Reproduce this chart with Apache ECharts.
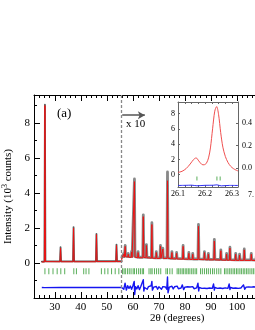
<!DOCTYPE html>
<html><head><meta charset="utf-8">
<script src="https://cdn.jsdelivr.net/npm/echarts@6/dist/echarts.min.js"></script>
<style>html,body{margin:0;padding:0;background:#fff}#c{width:255px;height:330px}</style>
</head><body><div id="c"></div>
<script>
// ---------- data ----------
const xTickLabels = [30, 40, 50, 60, 70, 80, 90, 100, 110];
const yTickLabels = [0, 2, 4, 6, 8];
const insetXLabels = [26.1, 26.2, 26.3];
const insetYLeftLabels = [0, 2, 4, 6, 8];
const insetYRightLabels = [0, 0.2, 0.4];

const scaleBreak = 55.7;

const calcBefore = [[25,0.06],[26.0,0.06],[26.2,9.0],[26.4,0.08],[32.0,0.07],[32.2,0.85],[32.4,0.07],[37.0,0.07],[37.2,2.0],[37.4,0.07],[42.0,0.07],[42.2,0.17],[42.4,0.08],[42.7,0.14],[42.9,0.07],[45.8,0.07],[46.0,1.62],[46.2,0.08],[53.5,0.08],[53.7,1.0],[53.9,0.08],[55.7,0.08]];
const calcAfter = [[55.75,0.3],[56.3,0.32],[56.5,0.5],[56.7,0.33],[56.9,0.35],[57.05,0.95],[57.2,0.36],[58.0,0.34],[58.2,0.5],[58.4,0.33],[59.3,0.32],[59.5,0.62],[59.7,0.32],[60.4,0.33],[60.6,4.65],[60.8,0.34],[61.8,0.3],[62.0,0.6],[62.2,0.3],[63.8,0.3],[64.0,2.65],[64.2,0.32],[65.0,0.3],[65.2,1.0],[65.4,0.3],[67.1,0.28],[67.3,2.2],[67.5,0.28],[68.8,0.26],[69.0,0.6],[69.2,0.26],[70.4,0.26],[70.6,0.95],[70.8,0.27],[71.3,0.27],[71.5,0.8],[71.7,0.26],[73.1,0.26],[73.3,4.7],[73.5,0.27],[74.8,0.24],[75.0,0.6],[75.2,0.24],[76.6,0.23],[76.8,0.55],[77.0,0.23],[79.1,0.22],[79.3,0.95],[79.5,0.22],[81.3,0.21],[81.5,0.55],[81.7,0.21],[82.8,0.2],[83.0,0.5],[83.2,0.2],[85.0,0.2],[85.2,2.1],[85.4,0.2],[87.3,0.19],[87.5,0.6],[87.7,0.19],[88.8,0.18],[89.0,0.5],[89.2,0.18],[91.1,0.18],[91.3,1.25],[91.5,0.18],[93.6,0.17],[93.8,0.7],[94.0,0.17],[95.8,0.16],[96.0,0.5],[96.2,0.16],[97.1,0.16],[97.3,0.85],[97.5,0.16],[99.3,0.15],[99.5,0.5],[99.7,0.15],[100.8,0.15],[101.0,0.45],[101.2,0.15],[102.6,0.15],[102.8,0.75],[103.0,0.15],[105.3,0.15],[105.5,0.5],[105.7,0.15],[107.3,0.14],[107.5,0.45],[107.7,0.14],[110,0.14]];

const obsBefore = [[25,0.08],[26.0,0.08],[26.2,9.05],[26.4,0.1],[32.0,0.09],[32.2,0.9],[32.4,0.09],[37.0,0.09],[37.2,2.05],[37.4,0.09],[42.0,0.09],[42.2,0.19],[42.4,0.1],[42.7,0.16],[42.9,0.09],[45.8,0.09],[46.0,1.66],[46.2,0.1],[53.5,0.1],[53.7,1.05],[53.9,0.1],[55.7,0.1]];
const obsAfter = [[55.8,0.32],[56.3,0.36],[56.5,0.55],[56.7,0.36],[56.9,0.4],[57.05,1.0],[57.2,0.4],[58.0,0.38],[58.2,0.55],[58.4,0.36],[59.3,0.36],[59.5,0.66],[59.7,0.36],[60.4,0.36],[60.6,4.8],[60.8,0.37],[61.8,0.33],[62.0,0.65],[62.2,0.33],[63.8,0.33],[64.0,2.75],[64.2,0.35],[65.0,0.33],[65.2,1.05],[65.4,0.33],[67.1,0.31],[67.3,2.3],[67.5,0.31],[68.8,0.29],[69.0,0.65],[69.2,0.29],[70.4,0.29],[70.6,1.0],[70.8,0.3],[71.3,0.3],[71.5,0.85],[71.7,0.29],[73.1,0.29],[73.3,5.2],[73.5,0.3],[74.8,0.27],[75.0,0.65],[75.2,0.27],[76.6,0.26],[76.8,0.6],[77.0,0.26],[79.1,0.25],[79.3,1.0],[79.5,0.25],[81.3,0.24],[81.5,0.6],[81.7,0.24],[82.8,0.23],[83.0,0.55],[83.2,0.23],[85.0,0.23],[85.2,2.2],[85.4,0.23],[87.3,0.22],[87.5,0.65],[87.7,0.22],[88.8,0.21],[89.0,0.55],[89.2,0.21],[91.1,0.21],[91.3,1.35],[91.5,0.21],[93.6,0.2],[93.8,0.75],[94.0,0.2],[95.8,0.19],[96.0,0.55],[96.2,0.19],[97.1,0.19],[97.3,0.9],[97.5,0.19],[99.3,0.18],[99.5,0.55],[99.7,0.18],[100.8,0.18],[101.0,0.5],[101.2,0.18],[102.6,0.18],[102.8,0.8],[103.0,0.18],[105.3,0.18],[105.5,0.55],[105.7,0.18],[107.3,0.17],[107.5,0.5],[107.7,0.17],[110,0.17]];

const braggPos = [26.2,27.7,29.3,30.9,32.3,33.8,37.3,38.3,41.1,42.0,43.1,47.9,49.2,50.4,51.8,53.2,54.6,
  56.0,56.6,57.1,57.9,58.6,59.3,60.1,60.6,61.4,62.2,62.9,63.6,64.1,66.2,66.9,67.4,68.3,69.1,69.9,70.7,72.7,73.3,74.2,75.1,
  77.0,77.6,78.2,78.9,79.4,80.1,80.7,81.3,81.9,82.6,83.2,83.9,84.5,86.0,86.7,87.5,88.3,89.0,89.8,90.6,91.3,92.2,93.0,93.8,
  95.2,95.8,96.5,97.2,97.8,98.5,99.1,99.8,100.4,101.1,101.7,102.4,103.0,103.7,104.3,105.0,105.7,106.3,107.0,107.6,108.3,108.9,109.6];
const braggLevel = -0.47;

const diffBefore = [[25,-1.4],[26.05,-1.41],[26.2,-1.3],[26.3,-1.47],[26.45,-1.4],[32.1,-1.4],[32.2,-1.36],[32.3,-1.42],[37.1,-1.4],[37.2,-1.32],[37.3,-1.45],[37.45,-1.4],[45.9,-1.4],[46.0,-1.33],[46.1,-1.44],[46.25,-1.4],[53.6,-1.4],[53.7,-1.36],[53.8,-1.42],[55.7,-1.4]];
const diffAfter = [[56.0,-1.35],[56.5,-1.5],[57.0,-1.15],[57.5,-1.55],[58.0,-1.3],[58.5,-1.45],[59.0,-1.32],[59.5,-1.5],[60.0,-1.3],[60.5,-1.05],[60.7,-1.8],[61.0,-1.35],[61.5,-1.48],[62.0,-1.3],[62.5,-1.52],[63.0,-1.36],[63.5,-1.45],[64.0,-0.95],[64.2,-1.6],[64.5,-1.4],[65.0,-1.3],[65.5,-1.5],[66.0,-1.35],[66.5,-1.45],[67.0,-1.3],[67.3,-1.05],[67.5,-1.55],[68.0,-1.38],[68.5,-1.47],[69.0,-1.34],[69.5,-1.5],[70.0,-1.36],[70.5,-1.25],[71.0,-1.5],[71.5,-1.35],[72.0,-1.46],[72.5,-1.37],[73.0,-1.5],[73.3,-0.8],[73.5,-1.7],[74.0,-1.38],[74.5,-1.45],[75.0,-1.33],[75.5,-1.48],[76.0,-1.36],[76.5,-1.44],[77.0,-1.32],[77.5,-1.47],[78.0,-1.37],[78.5,-1.43],[79.0,-1.25],[79.5,-1.52],[80.0,-1.38],[80.5,-1.44],[81.0,-1.36],[81.5,-1.46],[82.0,-1.37],[82.5,-1.43],[83.0,-1.35],[83.5,-1.47],[84.0,-1.38],[84.5,-1.42],[85.0,-1.15],[85.3,-1.6],[85.5,-1.4],[86.0,-1.36],[86.5,-1.45],[87.0,-1.37],[87.5,-1.44],[88.0,-1.36],[88.5,-1.46],[89.0,-1.38],[89.5,-1.43],[90.0,-1.37],[90.5,-1.45],[91.0,-1.2],[91.3,-1.55],[91.5,-1.4],[92.0,-1.36],[92.5,-1.45],[93.0,-1.38],[93.5,-1.43],[94.0,-1.36],[94.5,-1.46],[95.0,-1.38],[95.5,-1.42],[96.0,-1.37],[96.5,-1.45],[97.0,-1.2],[97.3,-1.52],[97.5,-1.4],[98.0,-1.37],[98.5,-1.44],[99.0,-1.38],[99.5,-1.43],[100.0,-1.36],[100.5,-1.45],[101.0,-1.38],[101.5,-1.43],[102.0,-1.37],[102.5,-1.25],[103.0,-1.5],[103.5,-1.38],[104.0,-1.44],[104.5,-1.37],[105.0,-1.45],[105.5,-1.38],[106.0,-1.43],[106.5,-1.36],[107.0,-1.45],[107.5,-1.38],[108.0,-1.43],[108.5,-1.37],[109.0,-1.44],[109.5,-1.39],[110.0,-1.42]];

const insetCalc = [[26.100,0.30],[26.115,0.45],[26.130,0.8],[26.145,1.4],[26.158,2.0],[26.167,2.2],[26.177,1.8],[26.188,1.35],[26.196,1.3],[26.205,1.5],[26.213,2.2],[26.220,3.5],[26.228,6.0],[26.236,8.3],[26.243,8.9],[26.250,7.9],[26.258,5.5],[26.266,3.6],[26.275,2.4],[26.285,1.6],[26.295,1.1],[26.305,0.8],[26.315,0.6],[26.322,0.5]];
const insetBragg = [26.170, 26.244, 26.256];
const insetDiff = [[26.100,-1.40],[26.130,-1.38],[26.150,-1.36],[26.170,-1.44],[26.200,-1.38],[26.230,-1.37],[26.244,-1.32],[26.260,-1.45],[26.290,-1.39],[26.322,-1.40]];

// ---------- chart ----------
const serif = '"Liberation Serif","DejaVu Serif",serif';
const chart = echarts.init(document.getElementById('c'), null, {renderer: 'canvas'});
const mainX = {min: 22, max: 110};
const mainY = {min: -2, max: 9.6};
const tickFmt10 = v => (Math.abs(v - Math.round(v)) < 1e-6 && xTickLabels.indexOf(Math.round(v)) >= 0) ? String(Math.round(v)) : '';
const line = {show: true, onZero: false, lineStyle: {color: '#000', width: 1}};
const lineG = {show: true, onZero: false, lineStyle: {color: '#666', width: 1}};
const noLine = {show: false, onZero: false};

chart.setOption({
  animation: false,
  backgroundColor: '#fff',
  grid: [
    {left: 34, top: 95, right: -8, bottom: 32, outerBoundsMode: 'none'},
    {left: 178, top: 102, width: 60, height: 85, backgroundColor: '#fff', show: true, borderWidth: 0, outerBoundsMode: 'none'}
  ],
  xAxis: [
    {gridIndex: 0, type: 'value', min: mainX.min, max: mainX.max, interval: 2, position: 'bottom',
     axisLine: line, axisTick: {inside: true, length: 3, lineStyle: {color: '#000'}},
     axisLabel: {formatter: tickFmt10, color: '#000', fontFamily: serif, fontSize: 11, margin: 4, showMinLabel: false, showMaxLabel: true},
     splitLine: {show: false}},
    {gridIndex: 0, type: 'value', min: mainX.min, max: mainX.max, position: 'bottom',
     axisLine: noLine, axisTick: {inside: true, length: 6, customValues: xTickLabels, lineStyle: {color: '#000'}},
     axisLabel: {show: false}, splitLine: {show: false}},
    {gridIndex: 0, type: 'value', min: mainX.min, max: mainX.max, interval: 2, position: 'top',
     axisLine: line, axisTick: {inside: true, length: 3, lineStyle: {color: '#000'}},
     axisLabel: {show: false}, splitLine: {show: false}},
    {gridIndex: 0, type: 'value', min: mainX.min, max: mainX.max, position: 'top',
     axisLine: noLine, axisTick: {inside: true, length: 6, customValues: xTickLabels, lineStyle: {color: '#000'}},
     axisLabel: {show: false}, splitLine: {show: false}},
    {gridIndex: 1, type: 'value', min: 26.1, max: 26.322, interval: 0.025, position: 'bottom',
     axisLine: lineG, axisTick: {inside: true, length: 2, lineStyle: {color: '#666'}},
     axisLabel: {color: '#000', fontFamily: serif, fontSize: 8, margin: 3, showMaxLabel: false,
       formatter: v => { const r = Math.round(v * 10) / 10; return (Math.abs(v - r) < 1e-6 && insetXLabels.some(t => Math.abs(t - r) < 1e-6)) ? r.toFixed(1) : ''; }},
     splitLine: {show: false}},
    {gridIndex: 1, type: 'value', min: 26.1, max: 26.322, interval: 0.025, position: 'top',
     axisLine: lineG, axisTick: {inside: true, length: 2, lineStyle: {color: '#666'}},
     axisLabel: {show: false}, splitLine: {show: false}}
  ],
  yAxis: [
    {gridIndex: 0, type: 'value', min: mainY.min, max: mainY.max, interval: 1, position: 'left',
     axisLine: line, axisTick: {inside: true, length: 3, lineStyle: {color: '#000'}},
     axisLabel: {color: '#000', fontFamily: serif, fontSize: 11, margin: 4, showMaxLabel: false,
       formatter: v => yTickLabels.indexOf(v) >= 0 ? String(v) : ''},
     splitLine: {show: false},
     name: 'Intensity (10{sup|3} counts)', nameLocation: 'middle', nameGap: 13, nameRotate: 90,
     nameTextStyle: {color: '#000', fontFamily: serif, fontSize: 11,
       rich: {sup: {fontSize: 8, fontFamily: serif, color: '#000', verticalAlign: 'top', padding: [0, 0, 6, 0]}}}},
    {gridIndex: 0, type: 'value', min: mainY.min, max: mainY.max, position: 'left',
     axisLine: noLine, axisTick: {inside: true, length: 6, customValues: yTickLabels, lineStyle: {color: '#000'}},
     axisLabel: {show: false}, splitLine: {show: false}},
    {gridIndex: 1, type: 'value', min: -1.6, max: 9.5, position: 'left',
     axisLine: lineG, axisTick: {inside: true, length: 2, customValues: insetYLeftLabels, lineStyle: {color: '#666'}},
     axisLabel: {customValues: insetYLeftLabels, color: '#000', fontFamily: serif, fontSize: 8, margin: 3},
     splitLine: {show: false}},
    {gridIndex: 1, type: 'value', min: -0.17, max: 0.587, position: 'right',
     axisLine: lineG, axisTick: {inside: true, length: 2, customValues: insetYRightLabels, lineStyle: {color: '#666'}},
     axisLabel: {customValues: insetYRightLabels, color: '#000', fontFamily: serif, fontSize: 8, margin: 4, formatter: v => Number(v).toFixed(1)},
     splitLine: {show: false}}
  ],
  series: [
    {type: 'line', xAxisIndex: 0, yAxisIndex: 0, data: obsBefore, symbol: 'none', silent: true,
     lineStyle: {color: '#333', width: 1.8, opacity: 0.8, join: 'round', cap: 'round'}, z: 2},
    {type: 'line', xAxisIndex: 0, yAxisIndex: 0, data: obsAfter, symbol: 'none', silent: true,
     lineStyle: {color: '#555', width: 2.8, opacity: 0.7, join: 'round', cap: 'round'}, z: 2},
    {type: 'line', xAxisIndex: 0, yAxisIndex: 0, data: calcBefore.concat(calcAfter), symbol: 'none', silent: true,
     lineStyle: {color: '#ee1111', width: 1, join: 'round'}, z: 3},
    {type: 'scatter', xAxisIndex: 0, yAxisIndex: 0, data: braggPos.map(x => [x, braggLevel]), symbol: 'rect',
     symbolSize: [1, 6], itemStyle: {color: '#2f9a2f'}, silent: true, z: 3},
    {type: 'line', xAxisIndex: 0, yAxisIndex: 0, data: diffBefore.concat(diffAfter), symbol: 'none', silent: true,
     lineStyle: {color: '#1515f0', width: 1.4, join: 'round'}, z: 3,
     markLine: {silent: true, symbol: ['none', 'none'], animation: false, label: {show: false},
       data: [
         {xAxis: scaleBreak, lineStyle: {color: '#888', width: 1.3, type: [3, 2]}},
         [{coord: [scaleBreak + 0.2, 8.45], lineStyle: {color: '#555', width: 1.5, type: 'solid'}},
          {coord: [64.6, 8.45], symbol: 'arrow', symbolSize: [6, 7]}]
       ]}},
    {type: 'line', xAxisIndex: 4, yAxisIndex: 2, data: insetCalc, symbol: 'none', smooth: 0.3, silent: true,
     lineStyle: {color: '#f05050', width: 1}, z: 5},
    {type: 'scatter', xAxisIndex: 4, yAxisIndex: 2, data: insetBragg.map(x => [x, -0.5]), symbol: 'rect',
     symbolSize: [1, 4], itemStyle: {color: '#2f9a2f'}, silent: true, z: 5},
    {type: 'line', xAxisIndex: 4, yAxisIndex: 2, data: insetDiff, symbol: 'none', smooth: 0.3, silent: true,
     lineStyle: {color: '#3030f0', width: 1}, z: 5}
  ],
  graphic: [
    {type: 'text', left: 57, top: 107, style: {text: '(a)', font: '13px ' + serif, fill: '#000'}},
    {type: 'text', left: 126, top: 119, style: {text: 'x 10', font: '11px ' + serif, fill: '#000'}},
    {type: 'text', left: 150, top: 313, style: {text: '2θ (degrees)', font: '11px ' + serif, fill: '#000'}},
    {type: 'text', left: 248, top: 191, style: {text: '7.', font: '8px ' + serif, fill: '#000'}}
  ]
});
</script></body></html>
